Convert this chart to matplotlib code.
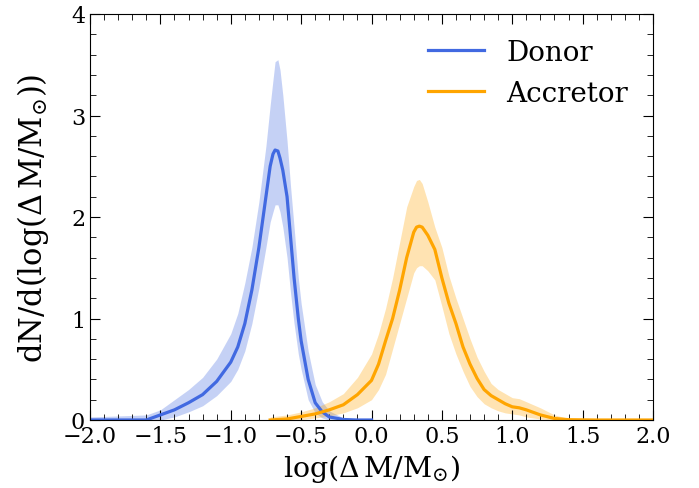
import matplotlib
matplotlib.use("Agg")
from matplotlib import pyplot as plt
from matplotlib.ticker import MultipleLocator

plt.rcParams['font.family'] = 'DejaVu Serif'
plt.rcParams['mathtext.fontset'] = 'dejavuserif'

# donor curve: x, median, lower, upper
donor_x = [-2.0, -1.8, -1.6, -1.5, -1.4, -1.3, -1.2, -1.1, -1.0, -0.95, -0.9, -0.85, -0.8,
           -0.75, -0.72, -0.7, -0.685, -0.665, -0.65, -0.63, -0.6, -0.575, -0.55, -0.52,
           -0.5, -0.45, -0.4, -0.35, -0.3, -0.2, -0.1, 0.0]
donor_y = [0, 0, 0.0, 0.05, 0.1, 0.17, 0.25, 0.38, 0.57, 0.72, 0.95, 1.28, 1.7,
           2.2, 2.5, 2.62, 2.66, 2.65, 2.58, 2.46, 2.2, 1.8, 1.4, 1.0,
           0.78, 0.4, 0.17, 0.08, 0.03, 0.005, 0, 0]
donor_lo = [0, 0, 0, 0.0, 0.03, 0.08, 0.14, 0.24, 0.38, 0.5, 0.68, 0.95, 1.3,
            1.7, 1.95, 2.05, 2.12, 2.12, 2.05, 1.9, 1.6, 1.25, 0.95, 0.65,
            0.5, 0.2, 0.07, 0.02, 0.0, 0, 0, 0]
donor_hi = [0.03, 0.04, 0.05, 0.1, 0.2, 0.3, 0.42, 0.6, 0.85, 1.05, 1.35, 1.7, 2.15,
            2.7, 3.1, 3.35, 3.53, 3.55, 3.45, 3.2, 2.75, 2.3, 1.9, 1.4,
            1.15, 0.68, 0.35, 0.18, 0.09, 0.02, 0.01, 0]

# accretor curve
acc_x = [-0.72, -0.6, -0.5, -0.4, -0.3, -0.2, -0.1, 0.0, 0.05, 0.1, 0.15, 0.2, 0.25, 0.3, 0.32,
         0.34, 0.36, 0.4, 0.45, 0.5, 0.55, 0.6, 0.65, 0.7, 0.75, 0.8, 0.85, 0.9, 0.95, 1.0,
         1.05, 1.1, 1.2, 1.3, 1.4, 1.6, 2.0]
acc_y = [0, 0.01, 0.035, 0.06, 0.1, 0.15, 0.25, 0.39, 0.55, 0.78, 1.0, 1.28, 1.6, 1.85, 1.9,
         1.91, 1.9, 1.82, 1.68, 1.4, 1.15, 0.95, 0.72, 0.55, 0.41, 0.3, 0.24, 0.2, 0.16, 0.13,
         0.12, 0.1, 0.05, 0.015, 0.003, 0, 0]
acc_lo = [0, 0, 0.005, 0.02, 0.04, 0.07, 0.12, 0.2, 0.3, 0.45, 0.7, 0.95, 1.2, 1.45, 1.5,
          1.52, 1.52, 1.47, 1.38, 1.12, 0.85, 0.65, 0.48, 0.33, 0.23, 0.16, 0.12, 0.09, 0.07,
          0.06, 0.05, 0.03, 0.01, 0, 0, 0, 0]
acc_hi = [0.03, 0.05, 0.08, 0.12, 0.18, 0.26, 0.42, 0.65, 0.85, 1.1, 1.4, 1.75, 2.1, 2.3, 2.36,
          2.37, 2.33, 2.15, 1.9, 1.7, 1.42, 1.2, 1.0, 0.8, 0.62, 0.48, 0.36, 0.3, 0.26, 0.22,
          0.21, 0.18, 0.12, 0.05, 0.015, 0.005, 0]

blue = 'royalblue'
orange = 'orange'

fig = plt.figure(figsize=(6.99, 4.89), dpi=100)
ax = fig.add_axes([90/699, 68/489, 563/699, 406/489])

ax.fill_between(donor_x, donor_lo, donor_hi, color=blue, alpha=0.3, lw=0)
ax.plot(donor_x, donor_y, color=blue, lw=2.3, label='Donor')
ax.fill_between(acc_x, acc_lo, acc_hi, color=orange, alpha=0.3, lw=0)
ax.plot(acc_x, acc_y, color=orange, lw=2.3, label='Accretor')

ax.set_xlim(-2, 2)
ax.set_ylim(0, 4)
ax.xaxis.set_major_locator(MultipleLocator(0.5))
ax.xaxis.set_minor_locator(MultipleLocator(0.1))
ax.yaxis.set_major_locator(MultipleLocator(1))
ax.yaxis.set_minor_locator(MultipleLocator(0.2))
ax.tick_params(which='both', direction='in', top=True, right=True, labelsize=16)
ax.tick_params(which='major', length=7)
ax.tick_params(which='minor', length=4)

ax.set_xlabel(r'$\log(\Delta\,\mathrm{M/M_{\odot}})$', fontsize=20.5)
ax.set_ylabel(r'$\mathrm{dN/d(\log(\Delta\,M/M_{\odot}))}$', fontsize=22, labelpad=14)

ax.legend(loc='upper right', frameon=False, fontsize=20, handlelength=2.0)

fig.savefig('out.png', dpi=100)
